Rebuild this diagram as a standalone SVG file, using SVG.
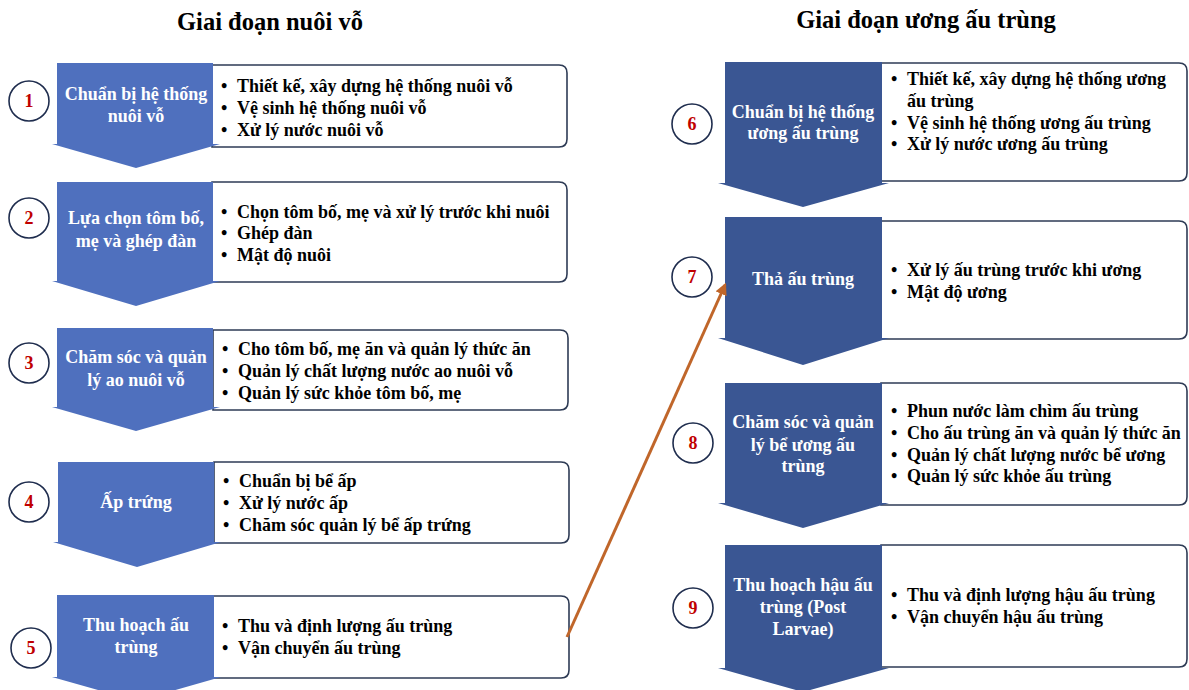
<svg xmlns="http://www.w3.org/2000/svg" width="1189" height="690" viewBox="0 0 1189 690">
<defs>
<style>
.title{font-family:"Liberation Serif","Times New Roman",serif;font-weight:bold;font-size:24.5px;fill:#000;text-anchor:middle}
.box{fill:#fff;stroke:#2E3B55;stroke-width:1.6}
.chevL{fill:#4F70BE}
.chevR{fill:#3A5693}
.ct{font-family:"Liberation Serif","Times New Roman",serif;font-weight:bold;font-size:18px;fill:#fff;text-anchor:middle}
.bt{font-family:"Liberation Serif","Times New Roman",serif;font-weight:bold;font-size:18px;fill:#000}
.circ{fill:#fff;stroke:#1F2D4E;stroke-width:1.6}
.num{font-family:"Liberation Serif","Times New Roman",serif;font-weight:bold;font-size:18px;fill:#C00000;text-anchor:middle}
.arrow{stroke:#C0662A;stroke-width:3;fill:none}
</style>
<marker id="ah" viewBox="0 0 10 10" refX="8" refY="5" markerWidth="4" markerHeight="4" orient="auto" markerUnits="strokeWidth">
<path d="M0,0 L10,5 L0,10 Z" fill="#C0662A"/>
</marker>
</defs>
<rect width="1189" height="690" fill="#fff"/>
<text class="title" x="270" y="30">Giai đoạn nuôi vỗ</text>
<text class="title" x="926" y="28">Giai đoạn ương ấu trùng</text>

<g id="step1">
<path class="box" d="M212,65 H559 Q567,65 567,73 V139 Q567,147 559,147 H212 Z"/>
<path class="chevL" d="M57,63 H213 V144 H220 L136,168 L52,144 H57 Z"/>
<circle class="circ" cx="29" cy="101" r="20"/>
<text class="num" x="29" y="107">1</text>
<text class="ct" x="136" y="100">Chuẩn bị hệ thống</text>
<text class="ct" x="136" y="122">nuôi vỗ</text>
<text class="bt" x="221" y="92">•</text><text class="bt" x="237" y="92">Thiết kế, xây dựng hệ thống nuôi vỗ</text>
<text class="bt" x="221" y="114">•</text><text class="bt" x="237" y="114">Vệ sinh hệ thống nuôi vỗ</text>
<text class="bt" x="221" y="136">•</text><text class="bt" x="237" y="136">Xử lý nước nuôi vỗ</text>
</g>

<g id="step2">
<path class="box" d="M212,182 H559 Q567,182 567,190 V274 Q567,282 559,282 H212 Z"/>
<path class="chevL" d="M57,182 H213 V281 H220 L136,306 L52,281 H57 Z"/>
<circle class="circ" cx="29" cy="218" r="20"/>
<text class="num" x="29" y="224">2</text>
<text class="ct" x="136" y="224">Lựa chọn tôm bố,</text>
<text class="ct" x="136" y="247">mẹ và ghép đàn</text>
<text class="bt" x="221" y="218">•</text><text class="bt" x="237" y="218">Chọn tôm bố, mẹ và xử lý trước khi nuôi</text>
<text class="bt" x="221" y="239">•</text><text class="bt" x="237" y="239">Ghép đàn</text>
<text class="bt" x="221" y="261">•</text><text class="bt" x="237" y="261">Mật độ nuôi</text>
</g>

<g id="step3">
<path class="box" d="M213,330 H560 Q568,330 568,338 V402 Q568,410 560,410 H213 Z"/>
<path class="chevL" d="M57,328 H213 V407 H220 L136,431 L52,407 H57 Z"/>
<circle class="circ" cx="29" cy="363" r="20"/>
<text class="num" x="29" y="369">3</text>
<text class="ct" x="136" y="363">Chăm sóc và quản</text>
<text class="ct" x="136" y="386">lý ao nuôi vỗ</text>
<text class="bt" x="222" y="355">•</text><text class="bt" x="238" y="355">Cho tôm bố, mẹ ăn và quản lý thức ăn</text>
<text class="bt" x="222" y="377">•</text><text class="bt" x="238" y="377">Quản lý chất lượng nước ao nuôi vỗ</text>
<text class="bt" x="222" y="399">•</text><text class="bt" x="238" y="399">Quản lý sức khỏe tôm bố, mẹ</text>
</g>

<g id="step4">
<path class="box" d="M214,462 H561 Q569,462 569,470 V535 Q569,543 561,543 H214 Z"/>
<path class="chevL" d="M58,462 H214 V542 H221 L137,567 L53,542 H58 Z"/>
<circle class="circ" cx="29" cy="502" r="20"/>
<text class="num" x="29" y="508">4</text>
<text class="ct" x="136" y="508">Ấp trứng</text>
<text class="bt" x="223" y="487">•</text><text class="bt" x="239" y="487">Chuẩn bị bể ấp</text>
<text class="bt" x="223" y="509">•</text><text class="bt" x="239" y="509">Xử lý nước ấp</text>
<text class="bt" x="223" y="531">•</text><text class="bt" x="239" y="531">Chăm sóc quản lý bể ấp trứng</text>
</g>

<g id="step5">
<path class="box" d="M213,596 H561 Q569,596 569,604 V670 Q569,678 561,678 H213 Z"/>
<path class="chevL" d="M57,595 H214 V677 H221 L137,701 L52,677 H57 Z"/>
<circle class="circ" cx="31" cy="648" r="20"/>
<text class="num" x="31" y="654">5</text>
<text class="ct" x="136" y="631">Thu hoạch ấu</text>
<text class="ct" x="136" y="653">trùng</text>
<text class="bt" x="222" y="632">•</text><text class="bt" x="238" y="632">Thu và định lượng ấu trùng</text>
<text class="bt" x="222" y="654">•</text><text class="bt" x="238" y="654">Vận chuyển ấu trùng</text>
</g>

<g id="step6">
<path class="box" d="M881,63 H1179 Q1187,63 1187,71 V173 Q1187,181 1179,181 H881 Z"/>
<path class="chevR" d="M725,62 H882 V183 H889 L803,207 L718,183 H725 Z"/>
<circle class="circ" cx="692" cy="124" r="20"/>
<text class="num" x="692" y="130">6</text>
<text class="ct" x="803" y="118">Chuẩn bị hệ thống</text>
<text class="ct" x="803" y="139">ương ấu trùng</text>
<text class="bt" x="891" y="85">•</text><text class="bt" x="907" y="85">Thiết kế, xây dựng hệ thống ương</text>
<text class="bt" x="907" y="107">ấu trùng</text>
<text class="bt" x="891" y="129">•</text><text class="bt" x="907" y="129">Vệ sinh hệ thống ương ấu trùng</text>
<text class="bt" x="891" y="150">•</text><text class="bt" x="907" y="150">Xử lý nước ương ấu trùng</text>
</g>

<g id="step7">
<path class="box" d="M881,221 H1179 Q1187,221 1187,229 V331 Q1187,339 1179,339 H881 Z"/>
<path class="chevR" d="M725,217 H882 V338 H889 L803,365 L718,338 H725 Z"/>
<circle class="circ" cx="692" cy="277" r="20"/>
<text class="num" x="692" y="283">7</text>
<text class="ct" x="803" y="285">Thả ấu trùng</text>
<text class="bt" x="891" y="276">•</text><text class="bt" x="907" y="276">Xử lý ấu trùng trước khi ương</text>
<text class="bt" x="891" y="298">•</text><text class="bt" x="907" y="298">Mật độ ương</text>
</g>

<g id="step8">
<path class="box" d="M881,383 H1179 Q1187,383 1187,391 V497 Q1187,505 1179,505 H881 Z"/>
<path class="chevR" d="M725,383 H882 V503 H889 L803,528 L718,503 H725 Z"/>
<circle class="circ" cx="693" cy="443" r="20"/>
<text class="num" x="693" y="449">8</text>
<text class="ct" x="803" y="428">Chăm sóc và quản</text>
<text class="ct" x="803" y="451">lý bể ương ấu</text>
<text class="ct" x="803" y="472">trùng</text>
<text class="bt" x="891" y="417">•</text><text class="bt" x="907" y="417">Phun nước làm chìm ấu trùng</text>
<text class="bt" x="891" y="439">•</text><text class="bt" x="907" y="439">Cho ấu trùng ăn và quản lý thức ăn</text>
<text class="bt" x="891" y="461">•</text><text class="bt" x="907" y="461">Quản lý chất lượng nước bể ương</text>
<text class="bt" x="891" y="482">•</text><text class="bt" x="907" y="482">Quản lý sức khỏe ấu trùng</text>
</g>

<g id="step9">
<path class="box" d="M881,545 H1179 Q1187,545 1187,553 V659 Q1187,667 1179,667 H881 Z"/>
<path class="chevR" d="M725,545 H882 V668 H889 L803,692 L718,668 H725 Z"/>
<circle class="circ" cx="693" cy="608" r="20"/>
<text class="num" x="693" y="614">9</text>
<text class="ct" x="803" y="591">Thu hoạch hậu ấu</text>
<text class="ct" x="803" y="613">trùng (Post</text>
<text class="ct" x="803" y="635">Larvae)</text>
<text class="bt" x="891" y="601">•</text><text class="bt" x="907" y="601">Thu và định lượng hậu ấu trùng</text>
<text class="bt" x="891" y="623">•</text><text class="bt" x="907" y="623">Vận chuyển hậu ấu trùng</text>
</g>

<g id="connectors">
<line class="arrow" x1="567" y1="637" x2="725" y2="285" marker-end="url(#ah)"/>
</g>
</svg>
